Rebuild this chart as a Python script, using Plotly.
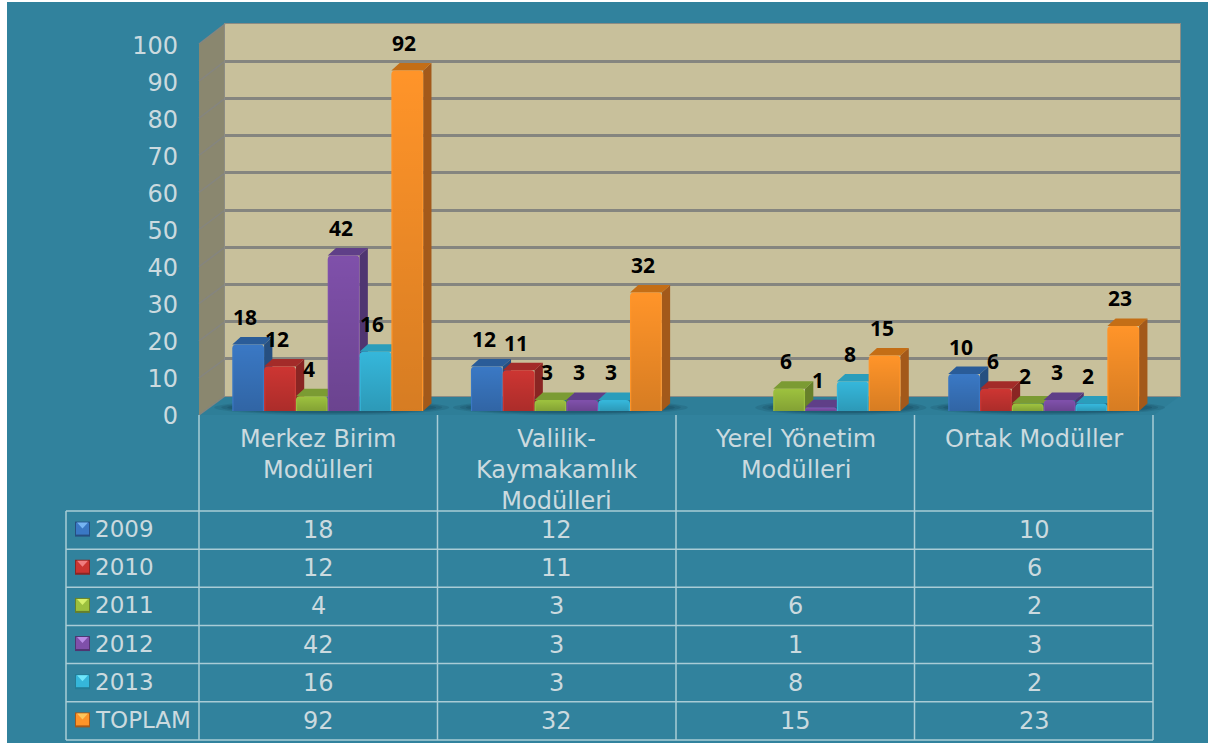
import plotly.graph_objects as go

W, H = 1208, 743

categories = ["Merkez Birim<br>Modülleri", "Valilik-<br>Kaymakamlık<br>Modülleri",
              "Yerel Yönetim<br>Modülleri", "Ortak Modüller"]
series_names = ["2009", "2010", "2011", "2012", "2013", "TOPLAM"]
v2009 = [18, 12, None, 10]
v2010 = [12, 11, None, 6]
v2011 = [4, 3, 6, 2]
v2012 = [42, 3, 1, 3]
v2013 = [16, 3, 8, 2]
vtoplam = [92, 32, 15, 23]
series_values = [v2009, v2010, v2011, v2012, v2013, vtoplam]
y_ticks = [0, 10, 20, 30, 40, 50, 60, 70, 80, 90, 100]

front_colors = ["#3A78C4", "#CC3532", "#9CC03E", "#7F50AA", "#35B6DA", "#FF9429"]
side_colors = ["#264F80", "#8A2523", "#67802A", "#4F3571", "#237C96", "#A3591A"]
top_colors = ["#2A5C98", "#A32B29", "#7B9B33", "#5F3F88", "#2A9DBB", "#C46E16"]
swatch_light = ["#76B4F2", "#F07D80", "#D6F06A", "#B98CE6", "#70E6FA", "#FFC65C"]

TEAL = "#31829D"
TEXT = "#CBDADF"
LINE = "#A9CCD6"
FONT = "DejaVu Sans"


def fx(p):
    return p / W


def fy(p):
    return 1 - p / H


def paper_path(points):
    return "M " + " L ".join(f"{fx(a):.5f},{fy(b):.5f}" for a, b in points) + " Z"


# plot geometry in pixels
WALL_L, WALL_R, WALL_T, WALL_B = 225, 1180, 24, 396
BAR_L, BAR_R, BAR_Y0, BAR_Y100 = 208.4, 1163, 411, 41
TICK_Y0, TICK_Y100 = 416, 46
CAT_W = (BAR_R - BAR_L) / 4
BAR_W = 1 / 7.5
DX = 8.3 / CAT_W
DY = 7.5 / ((BAR_Y0 - BAR_Y100) / 100)

fig = go.Figure()

# wall subplot (grid)
fig.add_trace(go.Scatter(x=[0], y=[0], xaxis="x", yaxis="y", mode="markers",
                         marker=dict(opacity=0), hoverinfo="skip", showlegend=False))

# side and top faces, painted left to right
for s, vals in enumerate(series_values):
    sx, sy, tx, ty = [], [], [], []
    for c, v in enumerate(vals):
        if v is None:
            continue
        x0 = c + (s - 3) * BAR_W
        x1 = x0 + BAR_W
        sx += [x1, x1 + DX, x1 + DX, x1, None]
        sy += [0, DY, v + DY, v, None]
        tx += [x0, x0 + DX, x1 + DX, x1, None]
        ty += [v, v + DY, v + DY, v, None]
    fig.add_trace(go.Scatter(x=sx, y=sy, xaxis="x2", yaxis="y2", mode="lines", fill="toself",
                             fillcolor=side_colors[s], line=dict(width=0), hoverinfo="skip",
                             showlegend=False))
    fig.add_trace(go.Scatter(x=tx, y=ty, xaxis="x2", yaxis="y2", mode="lines", fill="toself",
                             fillcolor=top_colors[s], line=dict(width=0), hoverinfo="skip",
                             showlegend=False))

# front faces
for s, vals in enumerate(series_values):
    fig.add_trace(go.Bar(name=series_names[s], x=list(range(4)), y=vals, xaxis="x3", yaxis="y3",
                         marker=dict(color=front_colors[s], line=dict(width=0), cornerradius=4),
                         showlegend=False))

# soft shading over each front face
inset = 1.2 / CAT_W
for s, vals in enumerate(series_values):
    for c, v in enumerate(vals):
        if v is None:
            continue
        x0 = c + (s - 3) * BAR_W + inset
        x1 = c + (s - 2) * BAR_W - inset
        fig.add_trace(go.Scatter(
            x=[x0, x1, x1, x0, x0], y=[0, 0, v - 0.3, v - 0.3, 0], xaxis="x3", yaxis="y3",
            mode="lines", fill="toself", line=dict(width=0), hoverinfo="skip", showlegend=False,
            fillgradient=dict(type="vertical",
                              colorscale=[[0, "rgba(0,0,0,0.16)"], [1, "rgba(0,0,0,0)"]])))

# y tick axis
fig.add_trace(go.Scatter(x=[0], y=[0], xaxis="x4", yaxis="y4", mode="markers",
                         marker=dict(opacity=0), hoverinfo="skip", showlegend=False))

hidden = dict(visible=False, fixedrange=True, automargin=False)
fig.update_layout(
    width=W, height=H, autosize=False,
    margin=dict(l=0, r=0, t=0, b=0, autoexpand=False),
    paper_bgcolor=TEAL, plot_bgcolor="rgba(0,0,0,0)",
    barmode="group", bargap=0.2, bargroupgap=0,
    showlegend=False,
    xaxis=dict(domain=[fx(WALL_L), fx(WALL_R)], range=[0, 1], showticklabels=False, showgrid=False,
               zeroline=False, ticks="", showline=True, mirror=True, linecolor="#8C8C84",
               linewidth=1, fixedrange=True, automargin=False),
    yaxis=dict(domain=[fy(WALL_B), fy(WALL_T)], range=[0, 100], tickvals=y_ticks,
               showticklabels=False, showgrid=True, gridcolor="#85857F", gridwidth=2.5,
               zeroline=False, ticks="", showline=True, mirror=True, linecolor="#8C8C84",
               linewidth=1, fixedrange=True, automargin=False),
    xaxis2=dict(domain=[fx(BAR_L), fx(BAR_R)], range=[-0.5, 3.5], anchor="y2", **hidden),
    yaxis2=dict(domain=[fy(BAR_Y0), fy(BAR_Y100)], range=[0, 100], anchor="x2", **hidden),
    xaxis3=dict(domain=[fx(BAR_L), fx(BAR_R)], range=[-0.5, 3.5], anchor="y3", **hidden),
    yaxis3=dict(domain=[fy(BAR_Y0), fy(BAR_Y100)], range=[0, 100], anchor="x3", **hidden),
    xaxis4=dict(domain=[fx(179), fx(198)], range=[0, 1], anchor="y4", **hidden),
    yaxis4=dict(domain=[fy(TICK_Y0), fy(TICK_Y100)], range=[0, 100], anchor="x4", side="left",
                tickvals=y_ticks, showgrid=False, zeroline=False, ticks="", showline=False,
                tickfont=dict(family=FONT, size=24, color=TEXT), fixedrange=True, automargin=False),
)

shapes = []


def pshape(path, fill, width=0, color=None, layer="below"):
    shapes.append(dict(type="path", xref="paper", yref="paper", path=path, fillcolor=fill,
                       line=dict(width=width, color=color or fill), layer=layer))


def pline(x0, y0, x1, y1, color=LINE, width=1.5, layer="below"):
    shapes.append(dict(type="line", xref="paper", yref="paper", x0=fx(x0), y0=fy(y0),
                       x1=fx(x1), y1=fy(y1), line=dict(color=color, width=width), layer=layer))


# back wall fill
shapes.append(dict(type="rect", xref="x domain", yref="y domain", x0=0, x1=1, y0=0, y1=1,
                   fillcolor="#C8C09B", line=dict(width=0), layer="below"))
# side wall and floor
pshape(paper_path([(199, 415), (199, 44), (WALL_L, WALL_T), (WALL_L, WALL_B)]), "#8A876F")
pshape(paper_path([(199, 415), (WALL_L, WALL_B), (WALL_R, WALL_B), (1154, 415)]), "#2E7E98")
for t in y_ticks:
    f = t / 100
    pline(199, 415 + (44 - 415) * f, WALL_L, WALL_B + (WALL_T - WALL_B) * f, "#85857F", 1.5)

# floor shadows under each group (from its first drawn bar to its last)
for c in range(4):
    drawn = [s for s in range(6) if series_values[s][c] is not None]
    left = BAR_L + CAT_W * (c + 0.5) + (drawn[0] - 3) * BAR_W * CAT_W
    right = BAR_L + CAT_W * (c + 0.5) + (drawn[-1] - 2) * BAR_W * CAT_W
    for grow, op in ((18, 0.16), (11, 0.2), (5, 0.26)):
        shapes.append(dict(type="circle", xref="paper", yref="paper",
                           x0=fx(left - grow), x1=fx(right + 8 + grow),
                           y0=fy(412 + grow / 6), y1=fy(403 - grow / 6),
                           fillcolor=f"rgba(18,62,82,{op})", line=dict(width=0), layer="below"))

# data table grid
col_x = [199, 437.5, 676, 914.5, 1153]
row_y = [511, 549.2, 587.3, 625.5, 663.6, 701.8, 740]
for x in col_x:
    pline(x, 415, x, row_y[-1])
pline(66, row_y[0], 66, row_y[-1])
for y in row_y:
    pline(66, y, col_x[-1], y)

# legend keys
for r in range(6):
    cy = (row_y[r] + row_y[r + 1]) / 2 - 1
    pshape(paper_path([(75, cy - 7.5), (90, cy - 7.5), (90, cy + 7.5), (75, cy + 7.5)]), side_colors[r])
    pshape(paper_path([(76, cy - 6.5), (89, cy - 6.5), (89, cy + 5.5), (76, cy + 5.5)]), front_colors[r])
    pshape(paper_path([(77, cy - 6.5), (88, cy - 6.5), (82.5, cy - 0.5)]), swatch_light[r])

# outer white strips of the picture
for x0, y0, x1, y1 in [(0, 0, 7, H), (0, 0, W, 2)]:
    shapes.append(dict(type="rect", xref="paper", yref="paper", x0=fx(x0), x1=fx(x1),
                       y0=fy(y1), y1=fy(y0), fillcolor="white", line=dict(width=0), layer="below"))

annotations = []
# data labels
for s, vals in enumerate(series_values):
    for c, v in enumerate(vals):
        if v is None:
            continue
        annotations.append(dict(x=c + (s - 2.5) * BAR_W, y=v, xref="x3", yref="y3", text=str(v),
                                showarrow=False, xanchor="center", yanchor="middle", xshift=-3,
                                yshift=27.5,
                                font=dict(family="Open Sans", size=21, color="black", weight="bold")))
# category labels
CELL_SHIFT = (col_x[0] + col_x[1]) / 2 - (BAR_L + CAT_W / 2)
for c, cat in enumerate(categories):
    annotations.append(dict(x=c, y=fy(423), xref="x3", yref="paper", text=cat, showarrow=False,
                            xanchor="center", yanchor="top", xshift=CELL_SHIFT, align="center",
                            font=dict(family=FONT, size=24, color=TEXT)))
# table cells
for s, vals in enumerate(series_values):
    cy = (row_y[s] + row_y[s + 1]) / 2
    annotations.append(dict(x=fx(93), y=fy(cy - 1), xref="paper", yref="paper", text=series_names[s],
                            showarrow=False, xanchor="left", yanchor="middle",
                            font=dict(family=FONT, size=23, color=TEXT)))
    for c, v in enumerate(vals):
        if v is None:
            continue
        annotations.append(dict(x=c, y=fy(cy), xref="x3", yref="paper", text=str(v), showarrow=False,
                                xanchor="center", yanchor="middle", xshift=CELL_SHIFT,
                                font=dict(family=FONT, size=24, color=TEXT)))

fig.update_layout(shapes=shapes, annotations=annotations)
fig.write_html("out.html", config={"displayModeBar": False},
               post_script="document.body.style.margin='0';document.body.style.overflow='hidden';")
